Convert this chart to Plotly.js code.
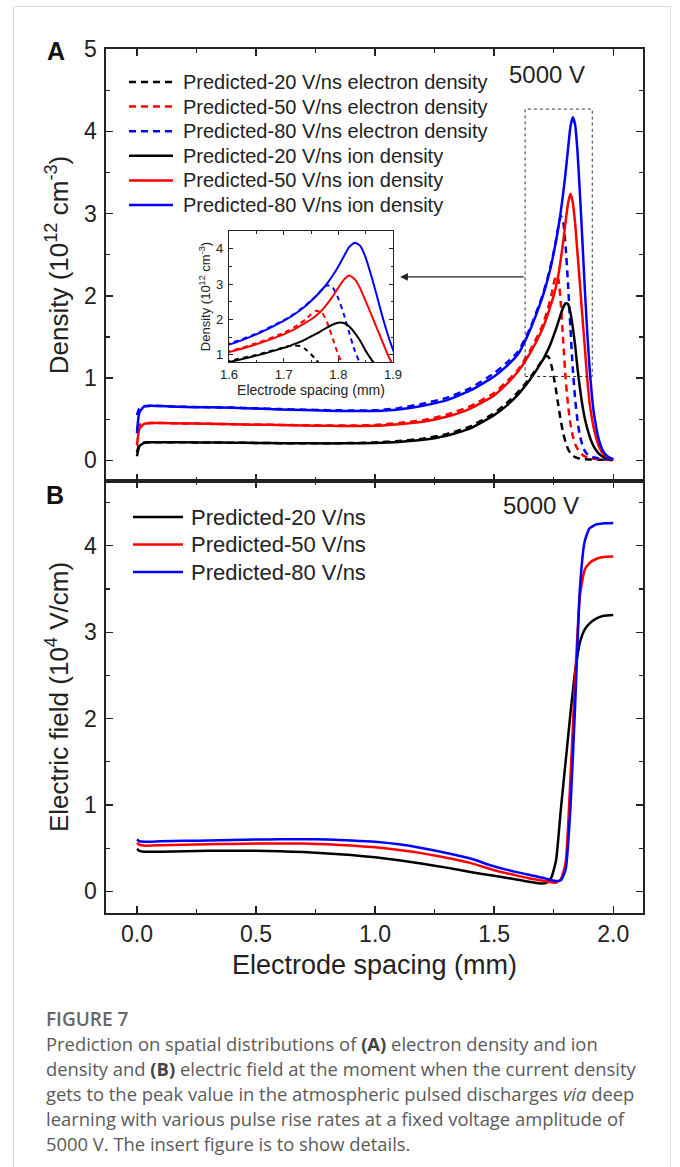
<!DOCTYPE html>
<html>
<head>
<meta charset="utf-8">
<script src="https://cdn.plot.ly/plotly-3.0.1.min.js"></script>
<style>
html,body{margin:0;padding:0;background:#fff;width:680px;height:1167px;overflow:hidden;}
#card{position:absolute;left:13px;top:6px;width:658px;height:1200px;border:1px solid #dcdcdc;box-sizing:border-box;}
#chart{position:absolute;left:0;top:0;width:680px;height:1000px;}
#caption{position:absolute;left:46px;top:1008px;font-family:'Open Sans','Noto Sans',sans-serif;color:#5a5a5a;font-size:18.4px;line-height:25px;white-space:nowrap;}
#caption .fig{font-weight:600;color:#666;font-size:19px;line-height:23px;}
#caption b{font-weight:700;color:#444;}
</style>
</head>
<body>
<div id="card"></div>
<div id="chart"></div>
<div id="caption">
<div class="fig">FIGURE 7</div>
<div>Prediction on spatial distributions of <b>(A)</b> electron density and ion</div>
<div>density and <b>(B)</b> electric field at the moment when the current density</div>
<div>gets to the peak value in the atmospheric pulsed discharges <i>via</i> deep</div>
<div>learning with various pulse rise rates at a fixed voltage amplitude of</div>
<div>5000 V. The insert figure is to show details.</div>
</div>
<script>
// ---------- Panel A: density (10^12 cm^-3) vs electrode spacing (mm) ----------
const densX = [0,0.01,0.03,0.06,0.1,0.2,0.3,0.4,0.5,0.6,0.7,0.8,0.9,1.0,1.1,1.2,1.3,1.4,1.5,1.55,1.6,1.65,
  1.70,1.71,1.72,1.73,1.74,1.75,1.76,1.77,1.78,1.79,1.80,1.81,1.82,1.83,1.84,1.85,1.86,1.87,1.88,1.89,1.90,1.91,1.92,
  1.94,1.96,1.98,2.0];
const electron20 = [0.1,0.19,0.215,0.22,0.22, 0.22,0.218,0.215,0.213,0.21,0.209,0.209,0.211,0.218,0.235,0.265,0.32,0.415,0.575, 0.69,0.83,1.0,
  1.21,1.25,1.27,1.25,1.16,1.02,0.85,0.66,0.48,0.33,0.22,0.14,0.09,0.06,0.04,0.03,0.022,0.018,0.015,0.013,0.012,0.011,0.01,
  0.008,0.007,0.006,0.005];
const electron50 = [0.38,0.43,0.45,0.455,0.455, 0.45,0.445,0.44,0.436,0.432,0.428,0.425,0.425,0.43,0.455,0.49,0.555,0.66,0.82, 0.95,1.1,1.33,
  1.62,1.7,1.79,1.89,2.0,2.15,2.25,2.2,1.9,1.45,1.0,0.68,0.45,0.3,0.2,0.14,0.1,0.07,0.05,0.04,0.03,0.025,0.02,
  0.015,0.012,0.01,0.008];
const electron80 = [0.55,0.63,0.66,0.665,0.662, 0.652,0.647,0.642,0.633,0.624,0.617,0.611,0.607,0.61,0.635,0.69,0.76,0.88,1.06, 1.18,1.32,1.6,
  1.98,2.07,2.17,2.28,2.4,2.53,2.68,2.85,2.97,2.9,2.6,2.15,1.62,1.12,0.75,0.48,0.3,0.19,0.12,0.08,0.06,0.045,0.035,
  0.025,0.018,0.013,0.01];
const ion20 = [0.05,0.17,0.215,0.22,0.22, 0.22,0.218,0.215,0.213,0.21,0.208,0.207,0.208,0.212,0.225,0.25,0.3,0.39,0.55, 0.66,0.8,0.98,
  1.2,1.25,1.31,1.37,1.44,1.52,1.6,1.69,1.78,1.86,1.91,1.9,1.8,1.62,1.4,1.12,0.88,0.68,0.52,0.4,0.3,0.22,0.16,
  0.08,0.04,0.02,0.01];
const ion50 = [0.18,0.38,0.445,0.455,0.455, 0.45,0.445,0.44,0.435,0.43,0.425,0.42,0.418,0.42,0.44,0.47,0.53,0.63,0.79, 0.92,1.08,1.3,
  1.58,1.65,1.73,1.82,1.91,2.0,2.12,2.26,2.45,2.66,2.9,3.12,3.24,3.14,2.88,2.52,2.15,1.77,1.4,1.02,0.72,0.52,0.37,
  0.17,0.07,0.03,0.01];
const ion80 = [0.33,0.58,0.655,0.665,0.66, 0.65,0.645,0.64,0.63,0.62,0.612,0.605,0.6,0.602,0.62,0.665,0.73,0.85,1.02, 1.14,1.29,1.58,
  1.96,2.05,2.15,2.26,2.38,2.52,2.67,2.84,3.03,3.25,3.5,3.78,4.05,4.17,4.08,3.75,3.25,2.7,2.12,1.6,1.15,0.8,0.55,
  0.25,0.1,0.04,0.015];

// ---------- Panel B: electric field (10^4 V/cm) ----------
const fieldX = [0,0.01,0.03,0.1,0.2,0.3,0.4,0.5,0.6,0.7,0.8,0.9,1.0,1.1,1.2,1.3,1.4,1.5,1.6,1.65,1.7,
  1.72,1.74,1.76,1.78,1.80,1.82,1.84,1.86,1.88,1.90,1.93,1.96,2.0];
const field20 = [0.49,0.47,0.46, 0.46,0.465,0.47,0.47,0.47,0.465,0.455,0.44,0.42,0.395,0.36,0.32,0.275,0.225,0.18,0.135, 0.11,0.09,
  0.1,0.16,0.36,0.95,1.5,2.05,2.55,2.88,3.03,3.1, 3.16,3.19,3.2];
const field50 = [0.56,0.54,0.53, 0.535,0.54,0.545,0.55,0.553,0.555,0.553,0.545,0.53,0.51,0.48,0.44,0.39,0.33,0.245,0.18, 0.15,0.125,
  0.115,0.105,0.1,0.14,0.33,1.3,2.45,3.42,3.72,3.8, 3.85,3.87,3.875];
const field80 = [0.6,0.58,0.575, 0.58,0.585,0.59,0.595,0.6,0.603,0.605,0.6,0.59,0.575,0.545,0.5,0.445,0.38,0.29,0.22, 0.19,0.16,
  0.145,0.13,0.12,0.13,0.25,0.95,2.15,3.5,4.05,4.2, 4.25,4.26,4.265];

// ---------- labels ----------
const densNames = ['Predicted-20 V/ns electron density','Predicted-50 V/ns electron density','Predicted-80 V/ns electron density',
  'Predicted-20 V/ns ion density','Predicted-50 V/ns ion density','Predicted-80 V/ns ion density'];
const fieldNames = ['Predicted-20 V/ns','Predicted-50 V/ns','Predicted-80 V/ns'];
const colors = ['#000000','#ff0000','#0000ff'];
const xTickVals = [0, 0.5, 1.0, 1.5, 2.0];
const xTickText = ['0.0','0.5','1.0','1.5','2.0'];
const insetXTickVals = [1.6,1.7,1.8,1.9];
const insetXTickText = ['1.6','1.7','1.8','1.9'];
const voltageLabel = '5000 V';

const FONT = 'Liberation Sans, Arial, sans-serif';
const densSeries = [electron20, electron50, electron80, ion20, ion50, ion80];
const fieldSeries = [field20, field50, field80];
const DASH_MAIN = '7px,5px';

// plot-area geometry (pixels) used to place legend rows in paper units
const PL = 106, PR = 643, PT = 49, PB = 913;
const px2x = px => (px - PL) / (PR - PL);
const py2y = py => (PB - py) / (PB - PT);

const traces = [];
densSeries.forEach((ys, i) => {
  traces.push({type:'scatter', mode:'lines', x: densX, y: ys, name: densNames[i], showlegend:false,
    line: {color: colors[i % 3], width: 2.5, dash: i < 3 ? DASH_MAIN : 'solid', shape: 'spline', smoothing: 0.5},
    xaxis:'x', yaxis:'y', hoverinfo:'skip'});
});
fieldSeries.forEach((ys, i) => {
  traces.push({type:'scatter', mode:'lines', x: fieldX, y: ys, name: fieldNames[i], showlegend:false,
    line: {color: colors[i], width: 2.5, shape:'spline', smoothing:0.5},
    xaxis:'x2', yaxis:'y2', hoverinfo:'skip'});
});
densSeries.forEach((ys, i) => {
  traces.push({type:'scatter', mode:'lines', x: densX, y: ys, name: densNames[i], showlegend:false,
    line: {color: colors[i % 3], width: 2, dash: i < 3 ? '5px,4px' : 'solid', shape:'spline', smoothing:0.5},
    xaxis:'x3', yaxis:'y3', hoverinfo:'skip'});
});

// legends drawn as line samples + labels
const shapes = [
  {type:'rect', xref:'x', yref:'y', x0:1.63, x1:1.912, y0:1.02, y1:4.27, line:{color:'#333', width:1, dash:'dot'}}
];
const annotations = [];
const legendARows = [82, 106.6, 131.2, 155.8, 180.4, 205];
densNames.forEach((nm, i) => {
  const yy = py2y(legendARows[i]);
  shapes.push({type:'line', xref:'paper', yref:'paper', x0:px2x(129), x1:px2x(173), y0:yy, y1:yy,
    line:{color:colors[i % 3], width:2.5, dash: i < 3 ? DASH_MAIN : 'solid'}});
  annotations.push({xref:'paper', yref:'paper', x:px2x(181), y:yy, text:nm, showarrow:false, xanchor:'left', yanchor:'middle',
    font:{family:FONT, size:20, color:'#222'}});
});
const legendBRows = [517, 544.5, 572];
fieldNames.forEach((nm, i) => {
  const yy = py2y(legendBRows[i]);
  shapes.push({type:'line', xref:'paper', yref:'paper', x0:px2x(133), x1:px2x(183), y0:yy, y1:yy,
    line:{color:colors[i], width:2.5}});
  annotations.push({xref:'paper', yref:'paper', x:px2x(189), y:yy, text:nm, showarrow:false, xanchor:'left', yanchor:'middle',
    font:{family:FONT, size:22, color:'#222'}});
});
annotations.push(
  {xref:'x', yref:'y', x:1.105, y:2.23, ax:1.63, ay:2.23, axref:'x', ayref:'y', text:'', showarrow:true,
    arrowhead:2, arrowsize:1.3, arrowwidth:1.2, arrowcolor:'#222'},
  {xref:'paper', yref:'paper', x:px2x(547), y:py2y(74), text:voltageLabel, showarrow:false, xanchor:'center', yanchor:'middle',
    font:{family:FONT, size:24, color:'#222'}},
  {xref:'paper', yref:'paper', x:px2x(541), y:py2y(506), text:voltageLabel, showarrow:false, xanchor:'center', yanchor:'middle',
    font:{family:FONT, size:24, color:'#222'}},
  {xref:'paper', yref:'paper', x:px2x(56), y:py2y(51), text:'<b>A</b>', showarrow:false, xanchor:'center', yanchor:'middle',
    font:{family:FONT, size:25, color:'#111'}},
  {xref:'paper', yref:'paper', x:px2x(55), y:py2y(495), text:'<b>B</b>', showarrow:false, xanchor:'center', yanchor:'middle',
    font:{family:FONT, size:25, color:'#111'}}
);

const axBase = {showline:true, linecolor:'#222', linewidth:1.6, mirror:'allticks', ticks:'inside',
  ticklen:7, tickwidth:1.4, tickcolor:'#222', showgrid:false, zeroline:false,
  tickfont:{family:FONT, size:23, color:'#222'}};
const minorBase = {ticks:'inside', ticklen:4, tickwidth:1.2, tickcolor:'#222', showgrid:false};

const layout = {
  width: 680, height: 1000,
  margin: {l:PL, r:680-PR, t:PT, b:1000-PB},
  paper_bgcolor:'rgba(0,0,0,0)', plot_bgcolor:'#ffffff',
  font: {family: FONT, color:'#222'},
  showlegend: false,
  xaxis: Object.assign({}, axBase, {domain:[0,1], anchor:'y', range:[-0.13,2.125], tickvals:xTickVals, ticktext:xTickText,
    showticklabels:false, minor:Object.assign({}, minorBase, {dtick:0.25, tick0:0})}),
  yaxis: Object.assign({}, axBase, {domain:[0.5,1], anchor:'x', range:[-0.25,5], dtick:1, tick0:0,
    ticklabelstandoff:3, minor:Object.assign({}, minorBase, {dtick:0.5, tick0:0}),
    title:{text:'Density (10<sup>12</sup> cm<sup>-3</sup>)', font:{family:FONT, size:26, color:'#222'}, standoff:8}}),
  xaxis2: Object.assign({}, axBase, {domain:[0,1], anchor:'y2', range:[-0.13,2.125], tickvals:xTickVals, ticktext:xTickText,
    ticklabelstandoff:0, minor:Object.assign({}, minorBase, {dtick:0.25, tick0:0}),
    title:{text:'Electrode spacing (mm)', font:{family:FONT, size:27, color:'#222'}, standoff:9}}),
  yaxis2: Object.assign({}, axBase, {domain:[0,0.5], anchor:'x2', range:[-0.25,4.75], dtick:1, tick0:0,
    ticklabelstandoff:3, minor:Object.assign({}, minorBase, {dtick:0.5, tick0:0}),
    title:{text:'Electric field (10<sup>4</sup> V/cm)', font:{family:FONT, size:26, color:'#222'}, standoff:8}}),
  xaxis3: Object.assign({}, axBase, {domain:[px2x(229), px2x(393)], anchor:'y3', range:[1.6,1.9], tickvals:insetXTickVals, ticktext:insetXTickText,
    linewidth:1.2, ticklen:4, tickwidth:1, tickfont:{family:FONT, size:13, color:'#222'}, ticklabelstandoff:0,
    minor:Object.assign({}, minorBase, {dtick:0.05, tick0:1.6, ticklen:2.5, tickwidth:1}),
    title:{text:'Electrode spacing (mm)', font:{family:FONT, size:14, color:'#222'}, standoff:0}}),
  yaxis3: Object.assign({}, axBase, {domain:[py2y(362), py2y(231)], anchor:'x3', range:[0.8,4.5], dtick:1, tick0:0,
    linewidth:1.2, ticklen:4, tickwidth:1, tickfont:{family:FONT, size:13, color:'#222'}, ticklabelstandoff:2,
    minor:Object.assign({}, minorBase, {dtick:0.5, tick0:0, ticklen:2.5, tickwidth:1}),
    title:{text:'Density (10<sup>12</sup> cm<sup>-3</sup>)', font:{family:FONT, size:13, color:'#222'}, standoff:2}}),
  shapes: shapes,
  annotations: annotations
};

Plotly.newPlot('chart', traces, layout, {displayModeBar:false, staticPlot:true});
</script>
</body>
</html>
